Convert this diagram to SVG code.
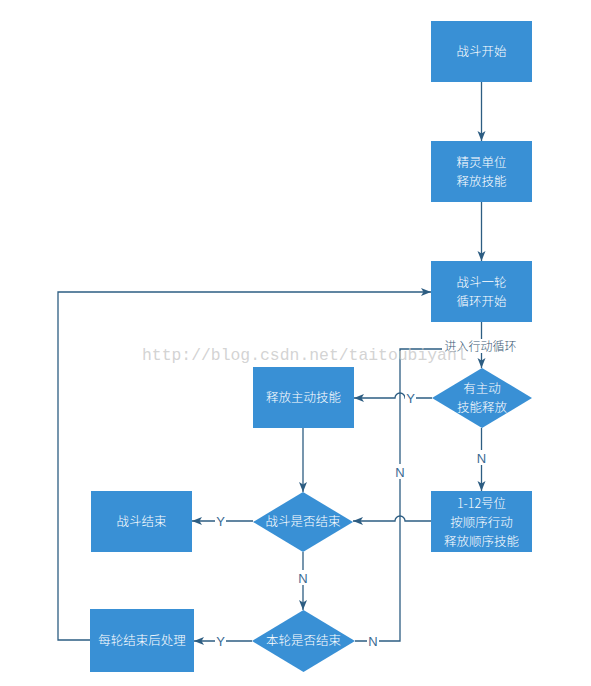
<svg xmlns="http://www.w3.org/2000/svg" width="591" height="686" viewBox="0 0 591 686">
<defs>
<marker id="arr" markerUnits="userSpaceOnUse" markerWidth="10" markerHeight="10" viewBox="0 0 10 10" refX="10" refY="5" orient="auto">
<path d="M0,1 L10,5 L0,9 L2.5,5 Z" fill="#2d5d82"/>
</marker>
</defs>
<style>
.box{fill:#3990d5}
.t{font-family:"Noto Sans CJK SC","Microsoft YaHei",sans-serif;font-size:12.5px;font-weight:300;fill:#ffffff;text-anchor:middle}
.e{fill:none;stroke:#2d5d82;stroke-width:1.3}
.lb{font-family:"Liberation Sans","Noto Sans CJK SC",sans-serif;font-size:13px;fill:#3a6a93;text-anchor:middle}
.lbg{fill:#ffffff}
</style>
<rect width="591" height="686" fill="#ffffff"/>
<g id="connectors">
<path class="e" d="M481.5,82 L481.5,141" marker-end="url(#arr)"/>
<path class="e" d="M481.5,202 L481.5,261" marker-end="url(#arr)"/>
<path class="e" d="M481.5,322 L481.5,368" marker-end="url(#arr)"/>
<path class="e" d="M432,398 L405,398 A5,5 0 0 0 395,398 L354,398" marker-end="url(#arr)"/>
<path class="e" d="M481.5,428 L481.5,491" marker-end="url(#arr)"/>
<path class="e" d="M431,521 L405,521 A5,5 0 0 0 395,521 L353,521" marker-end="url(#arr)"/>
<path class="e" d="M303,428 L303,492" marker-end="url(#arr)"/>
<path class="e" d="M253,521 L192,521" marker-end="url(#arr)"/>
<path class="e" d="M303,552 L303,610" marker-end="url(#arr)"/>
<path class="e" d="M252,641 L194,641" marker-end="url(#arr)"/>
<path class="e" d="M355,641 L400,641 L400,349 L481.5,349"/>
<path class="e" d="M90,640 L58,640 L58,292 L431,292" marker-end="url(#arr)"/>
<rect class="lbg" x="442" y="339" width="77" height="14"/>
<text x="480.5" y="351" class="lb" style="font-family:'Noto Sans CJK SC',sans-serif;font-size:12px;font-weight:300;fill:#3b5a75">进入行动循环</text>
<rect class="lbg" x="405" y="390" width="11" height="15"/>
<text x="410.5" y="403" class="lb">Y</text>
<rect class="lbg" x="475" y="450" width="12" height="15"/>
<text x="481.5" y="463" class="lb">N</text>
<rect class="lbg" x="215" y="513" width="11" height="15"/>
<text x="220.5" y="526" class="lb">Y</text>
<rect class="lbg" x="297" y="570" width="12" height="15"/>
<text x="303" y="583" class="lb">N</text>
<rect class="lbg" x="215" y="633" width="11" height="15"/>
<text x="220.5" y="646" class="lb">Y</text>
<rect class="lbg" x="367" y="633" width="12" height="15"/>
<text x="373" y="646" class="lb">N</text>
<rect class="lbg" x="394" y="464" width="12" height="15"/>
<text x="400" y="477" class="lb">N</text>
</g>
<g id="n1"><rect class="box" x="431" y="21" width="101" height="61"/><text class="t" x="481.5" y="56">战斗开始</text></g>
<g id="n2"><rect class="box" x="431" y="141" width="101" height="61"/><text class="t" x="481.5" y="167">精灵单位</text><text class="t" x="481.5" y="186">释放技能</text></g>
<g id="n3"><rect class="box" x="431" y="261" width="101" height="61"/><text class="t" x="481.5" y="287">战斗一轮</text><text class="t" x="481.5" y="306">循环开始</text></g>
<g id="n4"><path class="box" d="M482,368 L532,398 L482,428 L432,398 Z"/><text class="t" x="482" y="393">有主动</text><text class="t" x="482" y="412">技能释放</text></g>
<g id="n5"><rect class="box" x="253" y="367" width="101" height="61"/><text class="t" x="303.5" y="402">释放主动技能</text></g>
<g id="n6"><rect class="box" x="431" y="491" width="101" height="61"/><text class="t" x="481.5" y="508">1-12号位</text><text class="t" x="481.5" y="527">按顺序行动</text><text class="t" x="481.5" y="546">释放顺序技能</text></g>
<g id="n7"><path class="box" d="M303,492 L353,522 L303,552 L253,522 Z"/><text class="t" x="303" y="526">战斗是否结束</text></g>
<g id="n8"><rect class="box" x="91" y="491" width="101" height="61"/><text class="t" x="141.5" y="526">战斗结束</text></g>
<g id="n9"><path class="box" d="M303.5,610 L355,641 L303.5,672 L252,641 Z"/><text class="t" x="303.5" y="645">本轮是否结束</text></g>
<g id="n10"><rect class="box" x="90" y="609" width="104" height="63"/><text class="t" x="142" y="645">每轮结束后处理</text></g>
<text x="142" y="360" style="font-family:'Liberation Mono',monospace;font-size:16.4px;fill:#c8c8c8;fill-opacity:0.8">http://blog.csdn.net/taitoubiyanl</text>
</svg>
